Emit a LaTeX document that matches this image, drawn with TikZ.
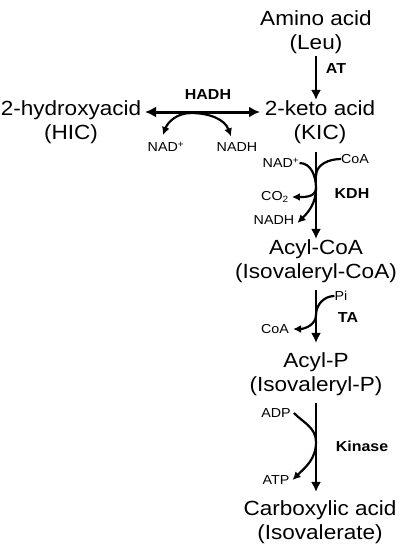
\documentclass[tikz,border=0pt]{standalone}
\usepackage{fontspec}
\setmainfont[FakeStretch=1.1]{Liberation Sans}
\usetikzlibrary{arrows.meta}

\begin{document}
\begin{tikzpicture}[x=1pt,y=1pt,
    metab/.style={align=center,inner sep=0pt,font=\fontsize{20.5}{24}\selectfont},
    enzyme/.style={inner sep=0pt,font=\bfseries\fontsize{14.5}{15}\selectfont},
    cofac/.style={inner sep=0pt,font=\fontsize{13}{13}\selectfont},
    mainarr/.style={line width=2.2pt,-{Latex[length=10pt,width=10pt]}},
    sidearr/.style={line width=2.2pt,-{Latex[length=8pt,width=8pt]}},
    dblarr/.style={line width=3pt,{Latex[length=11pt,width=11pt]}-{Latex[length=11pt,width=11pt]}}]
\useasboundingbox (0,0) rectangle (400,-549);

% Metabolites
\node[metab] (leu) at (316,-32.6) {Amino acid\\(Leu)};
\node[metab] (kic) at (320,-121.7) {2-keto acid\\(KIC)};
\node[metab] (hic) at (71,-121.7) {2-hydroxyacid\\(HIC)};
\node[metab] (acylcoa) at (316,-260.7) {Acyl-CoA\\(Isovaleryl-CoA)};
\node[metab] (acylp) at (316,-373.7) {Acyl-P\\(Isovaleryl-P)};
\node[metab] (carbox) at (320,-521.7) {Carboxylic acid\\(Isovalerate)};

% Enzymes
\node[enzyme] (at) at (336,-69) {AT};
\node[enzyme] (hadh) at (208,-95) {HADH};
\node[enzyme] (kdh) at (352,-194) {KDH};
\node[enzyme] (ta) at (348,-318) {TA};
\node[enzyme] (kinase) at (362,-446) {Kinase};

% Cofactors
\node[cofac] (nad1) at (166,-147) {NAD\textsuperscript{+}};
\node[cofac] (nadh1) at (237,-147) {NADH};
\node[cofac] (nad2) at (281,-163) {NAD\textsuperscript{+}};
\node[cofac] (coa1) at (355,-159) {CoA};
\node[cofac] (co2) at (275,-197) {CO\textsubscript{2}};
\node[cofac] (nadh2) at (274,-220) {NADH};
\node[cofac] (pi) at (341,-296) {Pi};
\node[cofac] (coa2) at (275,-329) {CoA};
\node[cofac] (adp) at (276,-413) {ADP};
\node[cofac] (atp) at (276,-480) {ATP};

% Main pathway
\draw[mainarr,shorten <=2pt] (leu.south) -- (leu.south |- kic.north);
\draw[mainarr,shorten <=9pt] (acylcoa.north |- kic.south) -- (acylcoa.north);
\draw[mainarr,shorten <=8pt,shorten >=9pt] (acylcoa.south) -- (acylp.north);
\draw[mainarr,shorten <=8pt,shorten >=8pt] (acylp.south) -- (acylp.south |- carbox.north);

% HADH side reaction
\coordinate (hadhL) at (145,-112);
\coordinate (hadhR) at (260,-112);
\coordinate (hadhM) at (191,-113);
\draw[dblarr] (hadhL) -- (hadhR);
\draw[sidearr] (hadhM) to[out=180,in=70] ([xshift=-3pt,yshift=7pt]nad1.north);
\draw[sidearr] (hadhM) to[out=0,in=110] ([xshift=-6pt,yshift=6pt]nadh1.north);

% KDH cofactors
\coordinate (kdhA) at (316,-176);
\coordinate (kdhB) at (316,-188);
\draw[line width=2.2pt] (coa1.west) to[out=180,in=90] (kdhA);
\draw[sidearr] (nad2.east) to[out=0,in=90] (kdhB) to[out=-90,in=45] ([xshift=3pt,yshift=-3pt]nadh2.east);
\draw[sidearr] (kdhB) to[out=-90,in=0] ([xshift=3pt]co2.east);

% TA cofactors
\coordinate (taA) at (316,-315);
\draw[sidearr] (pi.west) to[out=180,in=90] (taA) to[out=-90,in=0] ([xshift=4pt]coa2.east);

% Kinase cofactors
\coordinate (kinA) at (316,-442);
\draw[sidearr] ([xshift=3pt]adp.east) to[out=-45,in=90] (kinA) to[out=-90,in=45] ([xshift=3pt]atp.east);
\end{tikzpicture}
\end{document}
